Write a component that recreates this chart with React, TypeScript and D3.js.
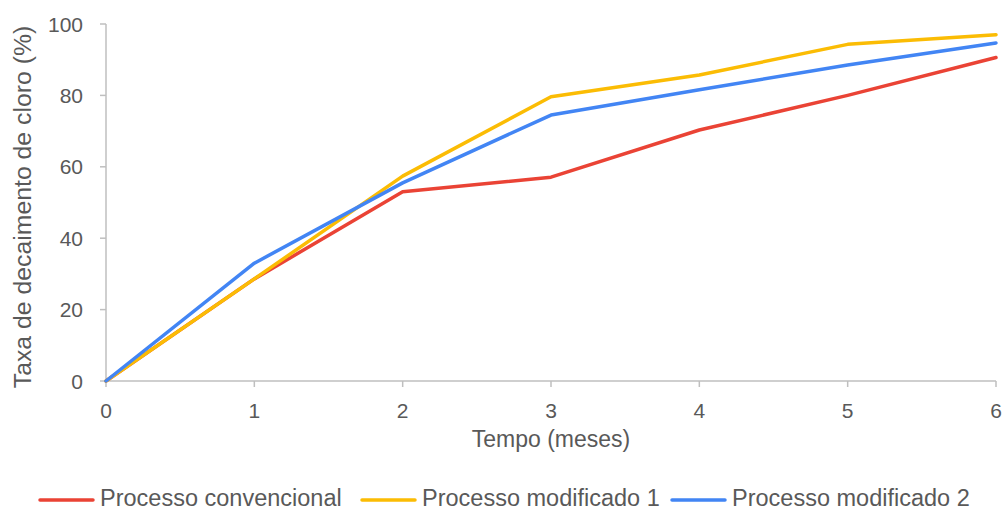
import React from "react";
import * as d3 from "d3";

const months = [0, 1, 2, 3, 4, 5, 6];
const convencional = [0, 28.6, 53, 57.1, 70.3, 80, 90.6];
const modificado1 = [0, 28.6, 57.4, 79.6, 85.7, 94.3, 97];
const modificado2 = [0, 33, 55.5, 74.5, 81.6, 88.5, 94.7];
const yTicks = [0, 20, 40, 60, 80, 100];
const seriesNames = ["Processo convencional", "Processo modificado 1", "Processo modificado 2"];
const seriesColors = ["#ea4335", "#fbbc04", "#4285f4"];

const W = 1005;
const H = 510;
const left = 106;
const right = 996;
const top = 24;
const bottom = 381;
const font = "'Liberation Sans', Arial, sans-serif";
const axisColor = "#bfbfbf";
const textColor = "#595959";

export default function App() {
  const x = d3.scaleLinear().domain([0, 6]).range([left, right]);
  const y = d3.scaleLinear().domain([0, 100]).range([bottom, top]);
  const line = d3
    .line<number>()
    .x((_, i) => x(months[i]))
    .y((d) => y(d));
  const series = [convencional, modificado1, modificado2];
  const legendX = [40, 362, 672];

  return (
    <svg
      width={W}
      height={H}
      style={{ position: "absolute", left: 0, top: 0, background: "#fff" }}
      fontFamily={font}
    >
      {/* y axis */}
      <line x1={left} x2={left} y1={top} y2={bottom} stroke={axisColor} strokeWidth={1.5} />
      {yTicks.map((t) => (
        <g key={t}>
          <line x1={left - 6} x2={left} y1={y(t)} y2={y(t)} stroke={axisColor} strokeWidth={1.5} />
          <text x={left - 23} y={y(t) + 7.5} textAnchor="end" fontSize={21} fill={textColor}>
            {t}
          </text>
        </g>
      ))}
      {/* x axis */}
      <line x1={left} x2={right} y1={bottom} y2={bottom} stroke={axisColor} strokeWidth={1.5} />
      {months.map((m) => (
        <g key={m}>
          <line x1={x(m)} x2={x(m)} y1={bottom} y2={bottom + 6} stroke={axisColor} strokeWidth={1.5} />
          <text x={x(m)} y={418} textAnchor="middle" fontSize={21} fill={textColor}>
            {m}
          </text>
        </g>
      ))}
      <text x={(left + right) / 2} y={447} textAnchor="middle" fontSize={23} fill={textColor}>
        Tempo (meses)
      </text>
      <text
        transform={`translate(31, ${207}) rotate(-90)`}
        textAnchor="middle"
        fontSize={24.8}
        fill={textColor}
      >
        Taxa de decaimento de cloro (%)
      </text>
      {/* series */}
      {series.map((s, i) => (
        <path
          key={i}
          d={line(s) || ""}
          fill="none"
          stroke={seriesColors[i]}
          strokeWidth={3.5}
          strokeLinejoin="round"
          strokeLinecap="round"
        />
      ))}
      {/* legend */}
      {seriesNames.map((n, i) => (
        <g key={n}>
          <line
            x1={legendX[i]}
            x2={legendX[i] + 53}
            y1={500}
            y2={500}
            stroke={seriesColors[i]}
            strokeWidth={3.5}
            strokeLinecap="round"
          />
          <text x={legendX[i] + 60} y={506} fontSize={23.5} fill={textColor}>
            {n}
          </text>
        </g>
      ))}
    </svg>
  );
}
